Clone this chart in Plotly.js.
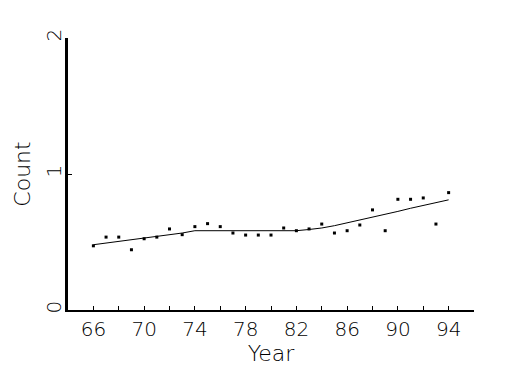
<!DOCTYPE html>
<html>
<head>
<meta charset="utf-8">
<script src="https://cdn.plot.ly/plotly-3.0.1.min.js"></script>
<style>html,body{margin:0;padding:0;background:#fff;}#chart{width:525px;height:375px;}</style>
</head>
<body>
<div id="chart"></div>
<script>
const years = [66,67,68,69,70,71,72,73,74,75,76,77,78,79,80,81,82,83,84,85,86,87,88,89,90,91,92,93,94];
const counts = [0.472,0.536,0.536,0.443,0.524,0.536,0.596,0.554,0.613,0.635,0.613,0.566,0.551,0.551,0.551,0.603,0.583,0.596,0.632,0.566,0.583,0.625,0.736,0.583,0.814,0.814,0.824,0.632,0.863];
const smooth = [0.480,0.492,0.503,0.515,0.526,0.540,0.554,0.566,0.583,0.583,0.583,0.583,0.583,0.583,0.583,0.583,0.583,0.592,0.603,0.620,0.640,0.662,0.684,0.704,0.725,0.748,0.770,0.790,0.810];
const xTicks = [66,70,74,78,82,86,90,94];
const yTicks = [0,1,2];

const font = {family: 'DejaVu Sans', size: 20, color: '#000', weight: 200};
const titleFont = {family: 'DejaVu Sans', size: 22, color: '#000', weight: 200};

Plotly.newPlot('chart', [
  {x: years, y: smooth, mode: 'lines', line: {color: '#000', width: 1}, hoverinfo: 'skip'},
  {x: years, y: counts, mode: 'markers', marker: {color: '#000', size: 3, symbol: 'square'}}
], {
  width: 525, height: 375,
  margin: {l: 68, r: 51, t: 38, b: 65},
  paper_bgcolor: '#fff', plot_bgcolor: '#fff',
  showlegend: false,
  font: font,
  xaxis: {
    range: [64, 96], tickvals: xTicks, ticktext: xTicks.map(String),
    ticks: 'inside', ticklen: 4, tickwidth: 1, tickcolor: '#000',
    minor: {dtick: 2, tick0: 64, ticks: 'inside', ticklen: 4, tickwidth: 1, tickcolor: '#000'},
    showline: true, linecolor: '#000', linewidth: 2,
    showgrid: false, zeroline: false,
    tickfont: font,
    title: {text: 'Year', font: titleFont, standoff: 6}
  },
  yaxis: {
    range: [0, 2], tickvals: yTicks, ticktext: yTicks.map(String),
    ticks: 'inside', ticklen: 4, tickwidth: 1, tickcolor: '#000',
    tickangle: -90,
    ticklabelstandoff: -4,
    showline: true, linecolor: '#000', linewidth: 3,
    showgrid: false, zeroline: false,
    tickfont: font,
    title: {text: 'Count', font: titleFont, standoff: 6}
  }
}, {staticPlot: true});
</script>
</body>
</html>
